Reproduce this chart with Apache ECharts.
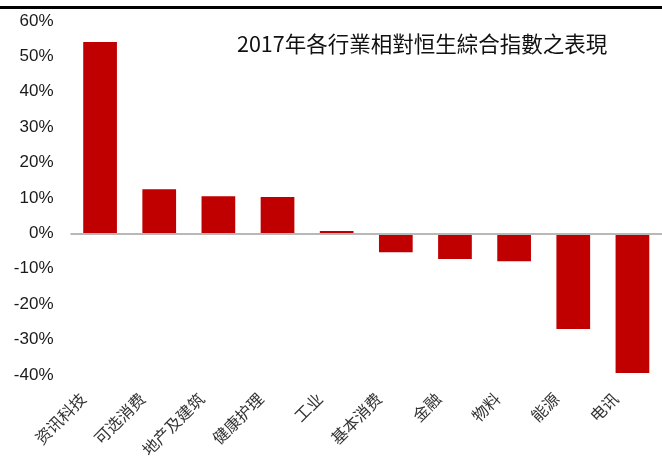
<!DOCTYPE html>
<html>
<head>
<meta charset="utf-8">
<script src="https://cdn.jsdelivr.net/npm/echarts@6/dist/echarts.min.js"></script>
<style>
    html, body { margin: 0; padding: 0; background: #fff; }
    #chart { width: 662px; height: 464px; }
</style>
</head>
<body>
<div id="chart"></div>
<script>
// 行业名称
const categories = ['资讯科技', '可选消费', '地产及建筑', '健康护理', '工业', '基本消费', '金融', '物料', '能源', '电讯'];
// 相对恒生综合指数表现 (%)
const values = [54.1, 12.5, 10.5, 10.3, 0.7, -5.3, -7.2, -7.9, -27.0, -39.4];
// y轴刻度
const yMin = -40;
const yMax = 60;
const yStep = 10;

const chart = echarts.init(document.getElementById('chart'), null, { renderer: 'canvas' });

const option = {
    animation: false,
    backgroundColor: '#fff',
    title: {
        text: '2017年各行業相對恒生綜合指數之表現',
        left: 232,
        top: 28,
        textStyle: {
            fontFamily: '"Noto Sans CJK TC", sans-serif',
            fontSize: 21.5,
            fontWeight: 'normal',
            color: '#111'
        }
    },
    // 顶部黑线
    graphic: [
        {
            type: 'rect',
            shape: { x: 0, y: 6, width: 662, height: 3 },
            style: { fill: '#000' }
        }
    ],
    grid: {
        left: 70.5,
        right: 0,
        top: 21,
        bottom: 89,
        containLabel: false
    },
    xAxis: {
        type: 'category',
        data: categories,
        axisLine: { show: false, onZero: false },
        axisTick: { show: false },
        axisLabel: {
            interval: 0,
            rotate: 45,
            margin: 4,
            padding: [0, 24, 0, 0],
            fontFamily: '"Noto Sans CJK SC", sans-serif',
            fontSize: 16,
            color: '#333'
        }
    },
    yAxis: {
        type: 'value',
        min: yMin,
        max: yMax,
        interval: yStep,
        axisLine: { show: false },
        axisTick: { show: false },
        splitLine: { show: false },
        axisLabel: {
            formatter: '{value}%',
            margin: 17,
            fontFamily: '"Liberation Sans", Arial, sans-serif',
            fontSize: 17,
            color: '#1a1a1a'
        }
    },
    series: [
        {
            type: 'bar',
            data: values,
            barWidth: '57%',
            itemStyle: { color: '#C00000' },
            markLine: {
                silent: true,
                symbol: 'none',
                label: { show: false },
                lineStyle: { color: '#b8b8b8', width: 2, type: 'solid' },
                data: [{ yAxis: 0 }]
            }
        }
    ]
};

chart.setOption(option);
</script>
</body>
</html>
